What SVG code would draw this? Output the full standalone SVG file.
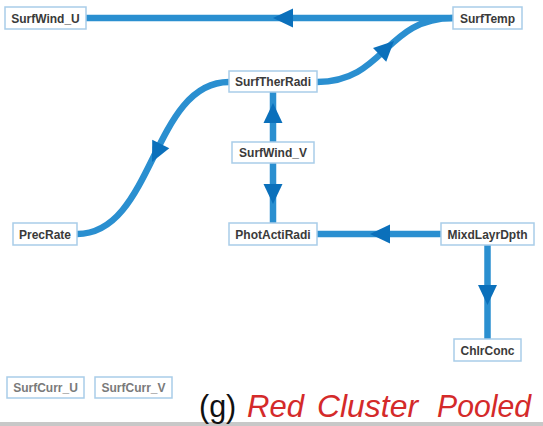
<svg xmlns="http://www.w3.org/2000/svg" width="543" height="426" viewBox="0 0 543 426">
<style>
.node rect{fill:#ffffff;stroke:#a9cde9;stroke-width:1.5}
.node text{font-family:"Liberation Sans",Arial,sans-serif;font-weight:bold;font-size:12px;fill:#3a3a3a;text-anchor:middle}
.faint text{fill:#7a7a7a}
.edge{fill:none;stroke:#2a8fd0;stroke-width:6.5}
.head{fill:#0b70bb}
.cap{font-family:"Liberation Sans",Arial,sans-serif;font-size:30.5px}
</style>
<defs>
<polygon id="ah" points="0,0 -20,-9.5 -20,9.5"/>
</defs>
<rect x="0" y="0" width="543" height="426" fill="#ffffff"/>
<g id="connectors">
<path class="edge" d="M86,18 L453,18"/>
<path class="edge" d="M317,82 C385,82 385,18 453,18"/>
<path class="edge" d="M229,82 C152,82 154,234 77,234"/>
<path class="edge" d="M273,142 L273,92"/>
<path class="edge" d="M273,163 L273,223"/>
<path class="edge" d="M441,234 L317,234"/>
<path class="edge" d="M487.5,245 L487.5,339"/>
<use href="#ah" class="head" transform="translate(273,18) rotate(180)"/>
<use href="#ah" class="head" transform="translate(394,41) rotate(-44)"/>
<use href="#ah" class="head" transform="translate(152,162) rotate(116)"/>
<use href="#ah" class="head" transform="translate(273,103) rotate(-90)"/>
<use href="#ah" class="head" transform="translate(273,204) rotate(90)"/>
<use href="#ah" class="head" transform="translate(370,234) rotate(180)"/>
<use href="#ah" class="head" transform="translate(487.5,305) rotate(90)"/>
</g>
<g id="SurfWind_U" class="node"><rect x="5" y="7" width="81" height="22"/><text x="45.5" y="22.5">SurfWind_U</text></g>
<g id="SurfTemp" class="node"><rect x="453" y="7" width="69" height="22"/><text x="487.5" y="22.5">SurfTemp</text></g>
<g id="SurfTherRadi" class="node"><rect x="229" y="71" width="88" height="21"/><text x="273" y="86">SurfTherRadi</text></g>
<g id="SurfWind_V" class="node"><rect x="232" y="142" width="82" height="21"/><text x="273" y="157">SurfWind_V</text></g>
<g id="PrecRate" class="node"><rect x="13" y="223" width="64" height="22"/><text x="45" y="238.5">PrecRate</text></g>
<g id="PhotActiRadi" class="node"><rect x="229" y="223" width="88" height="22"/><text x="273" y="238.5">PhotActiRadi</text></g>
<g id="MixdLayrDpth" class="node"><rect x="441" y="223" width="93" height="22"/><text x="487.5" y="238.5">MixdLayrDpth</text></g>
<g id="ChlrConc" class="node"><rect x="454" y="339" width="67" height="22"/><text x="487.5" y="354.5">ChlrConc</text></g>
<g id="SurfCurr_U" class="node faint"><rect x="7" y="377" width="77" height="21"/><text x="45.5" y="392">SurfCurr_U</text></g>
<g id="SurfCurr_V" class="node faint"><rect x="95" y="377" width="77" height="21"/><text x="133.5" y="392">SurfCurr_V</text></g>
<rect x="0" y="422" width="543" height="4" fill="#c8c8c8"/>
<text class="cap" x="199" y="417" fill="#111111">(g)</text>
<text class="cap" x="247" y="417" fill="#d42a2a" font-style="italic" textLength="57" lengthAdjust="spacingAndGlyphs">Red</text>
<text class="cap" x="317" y="417" fill="#d42a2a" font-style="italic" textLength="101" lengthAdjust="spacingAndGlyphs">Cluster</text>
<text class="cap" x="437" y="417" fill="#d42a2a" font-style="italic" textLength="94" lengthAdjust="spacingAndGlyphs">Pooled</text>
</svg>
